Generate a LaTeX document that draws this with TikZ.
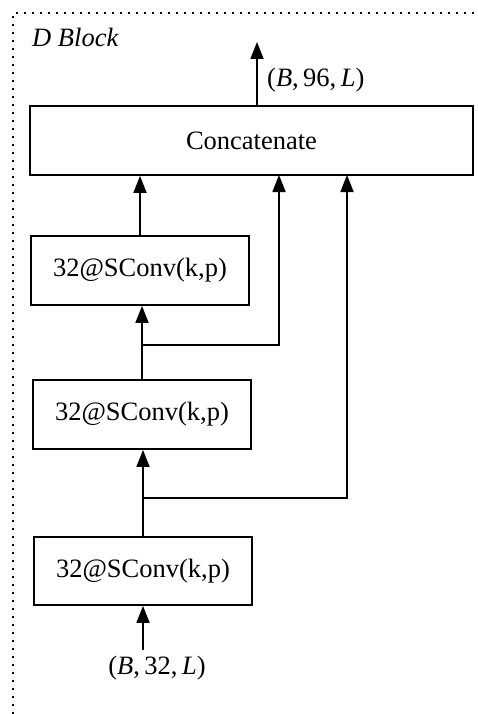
\documentclass[tikz,border=0pt]{standalone}
\usepackage{fontspec}
\setmainfont{Liberation Serif}
\usetikzlibrary{arrows.meta}
\tikzset{
  box/.style={draw, line width=1.8pt, inner sep=0pt, font=\fontsize{26.5}{31}\selectfont},
  arr/.style={line width=1.8pt, -{Triangle[width=13pt,length=17pt]}},
  lbl/.style={inner sep=0pt, font=\fontsize{26.5}{31}\selectfont},
  frame/.style={line width=2pt, dash pattern=on 2pt off 6pt}
}
\begin{document}
\begin{tikzpicture}[x=1pt, y=-1pt]
  \useasboundingbox (0,0) rectangle (478,714);
  % dotted block frame (continues past the right and bottom edges)
  \draw[frame] (13,714) -- (13,13) -- (478,13);
  \node[lbl, anchor=base west, font=\fontsize{26.5}{31}\selectfont\itshape] (title) at (32,47) {D Block};

  % boxes
  \node[box, minimum width=443pt, minimum height=69pt] (cat) at (251.5,140.5) {Concatenate};
  \node[box, minimum width=218pt, minimum height=69pt] (c1) at (140,270.5) {32@SConv(k,p)};
  \node[box, minimum width=218pt, minimum height=69pt] (c2) at (142,414.5) {32@SConv(k,p)};
  \node[box, minimum width=218pt, minimum height=68pt] (c3) at (143,571) {32@SConv(k,p)};

  % junctions and free ends
  \coordinate (outtip) at (257,42);
  \coordinate (j1) at (142,345);
  \coordinate (j2) at (143,498);
  \coordinate (t2) at (279,175);
  \coordinate (t3) at (347,175);
  \coordinate (inp) at (143,650);

  % connectors
  \draw[arr] (cat.north -| outtip) -- (outtip);
  \draw[arr] (c1.north) -- (c1.north |- cat.south);
  \draw[arr] (c2.north) -- (c2.north |- c1.south);
  \draw[arr] (j1) -| (t2);
  \draw[arr] (c3.north) -- (c3.north |- c2.south);
  \draw[arr] (j2) -| (t3);
  \draw[arr] (inp) -- (inp |- c3.south);

  % shape labels
  \node[lbl, anchor=west] (outlbl) at (267,80) {(\textit{B},\,96,\,\textit{L})};
  \node[lbl] (inlbl) at (157,668) {(\textit{B},\,32,\,\textit{L})};
\end{tikzpicture}
\end{document}
